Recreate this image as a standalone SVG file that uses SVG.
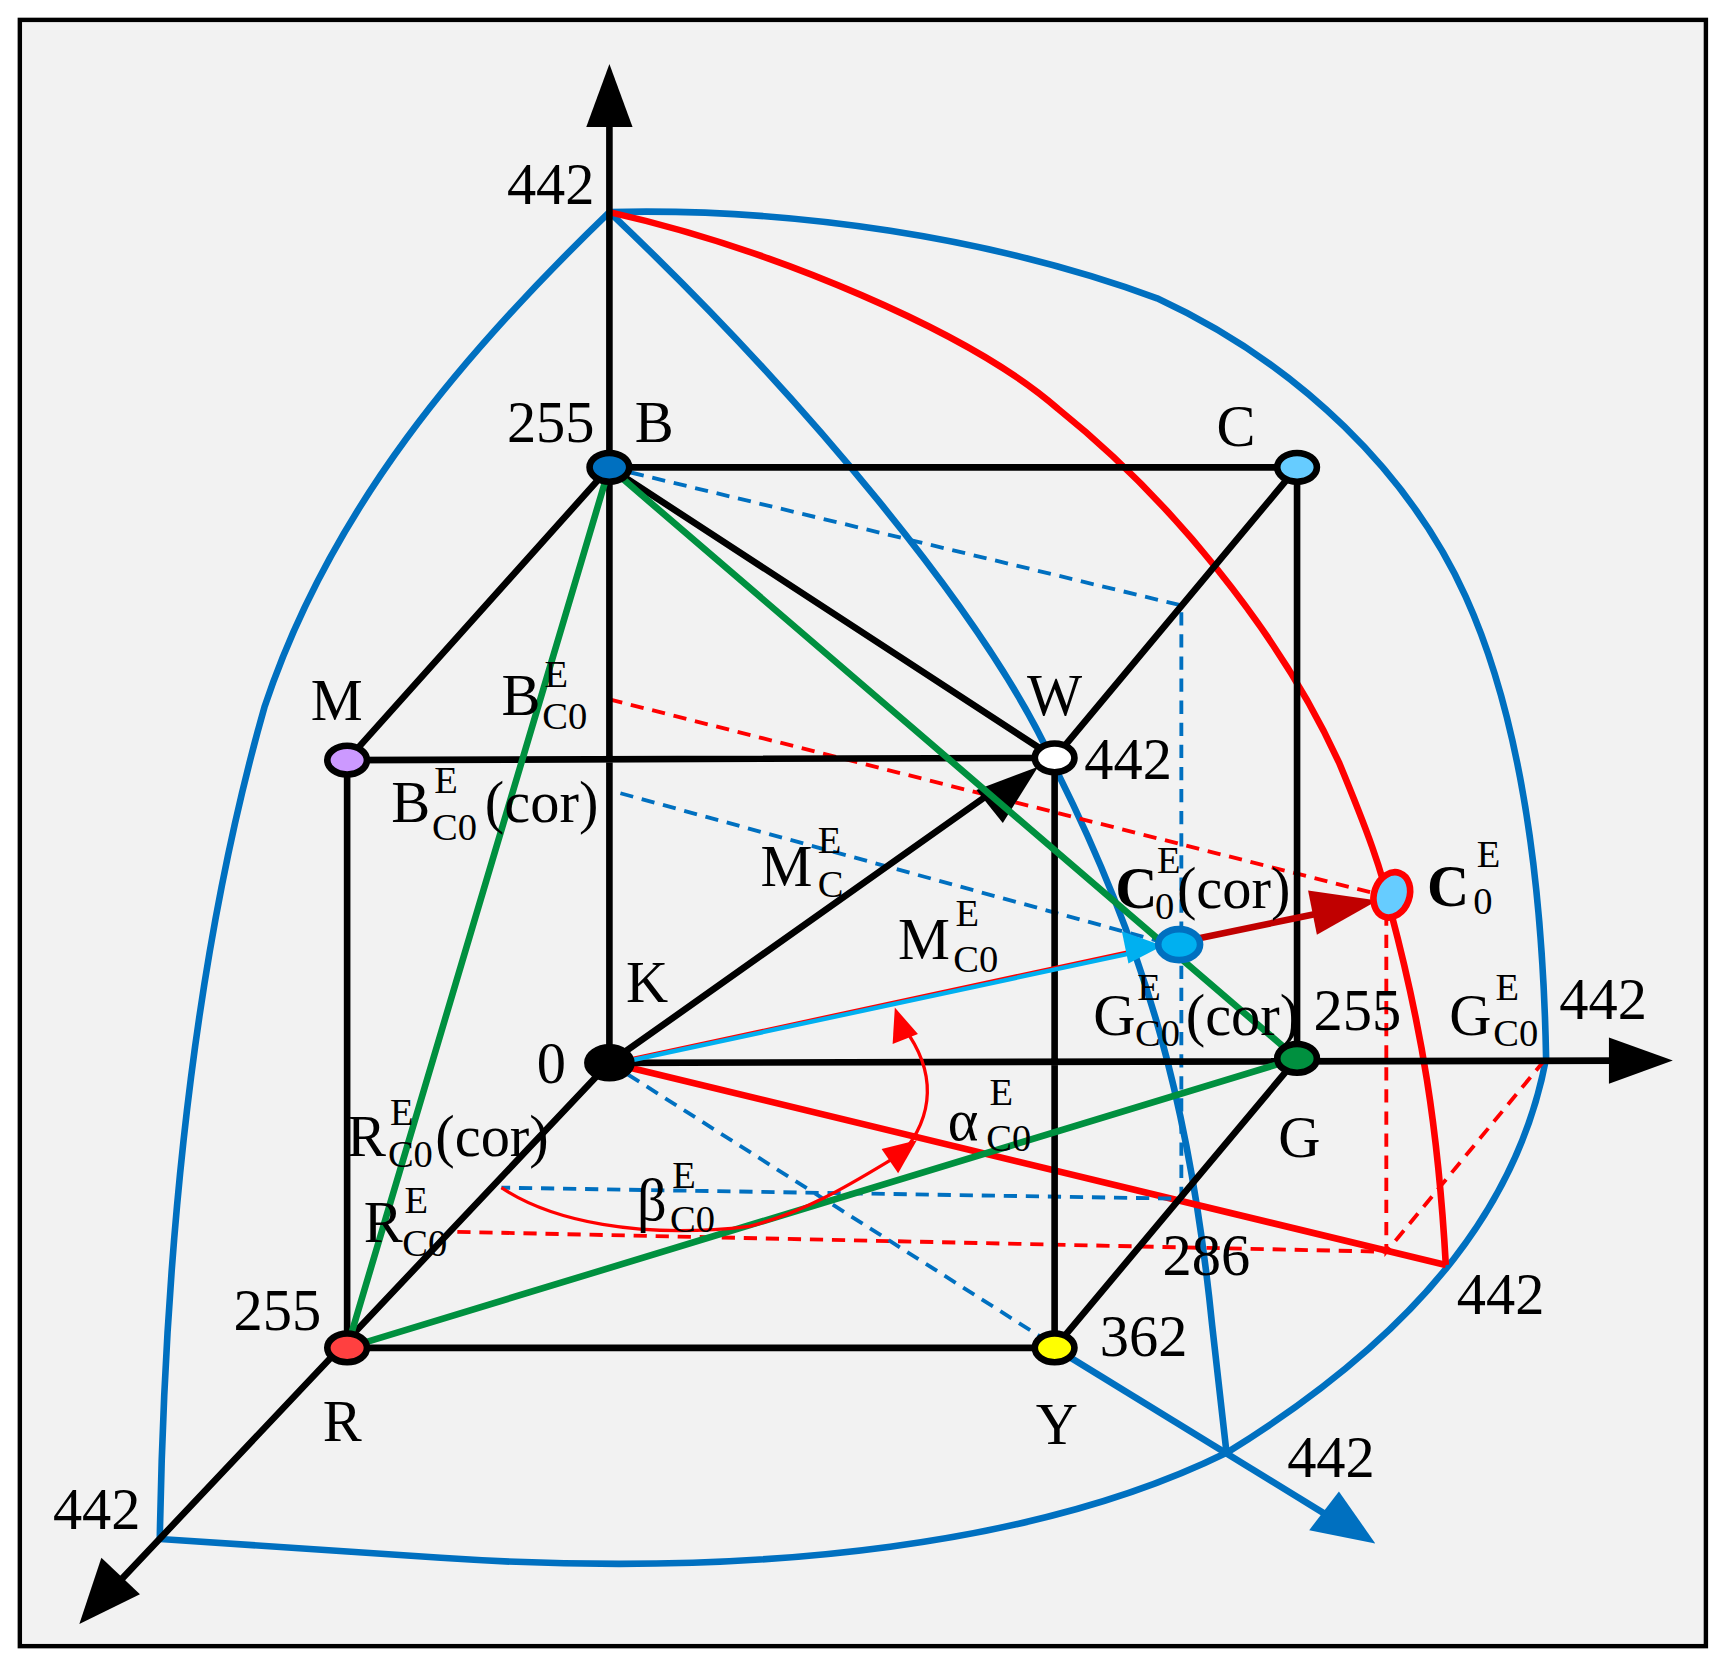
<svg xmlns="http://www.w3.org/2000/svg" width="1728" height="1666" viewBox="0 0 1728 1666">
<defs>
<style>
.t{font-family:"Liberation Serif",serif;font-size:53px;fill:#000}
.s{font-size:35px}
.b{font-weight:bold}
.k{stroke:#000;stroke-width:6;fill:none}
.bl{stroke:#0070c0;stroke-width:6;fill:none}
.rd{stroke:#ff0000;stroke-width:6;fill:none}
.gr{stroke:#00903f;stroke-width:6;fill:none}
.bd{stroke:#0070c0;stroke-width:3.5;fill:none;stroke-dasharray:12 8}
.rdd{stroke:#ff0000;stroke-width:3.5;fill:none;stroke-dasharray:12 8}
.n{stroke:#000;stroke-width:6}
</style>
</defs>
<rect x="0" y="0" width="1728" height="1666" fill="#fff"/>
<g transform="scale(1.102,1.1048)">
<rect x="18" y="18" width="1530" height="1472" fill="#f2f2f2" stroke="#000" stroke-width="4"/>
<g id="connectors">
<path class="bl" d="M553,192 C720,188 900,215 1050,270 C1180,330 1280,430 1330,540 C1380,650 1400,800 1403,958 C1380,1080 1300,1200 1113,1315 C950,1395 700,1430 400,1410 L145,1393 C150,1100 180,850 240,640 C300,460 420,320 553,192 Z"/>
<path class="bl" d="M553,192 C720,350 900,560 960,700 C1040,860 1080,1000 1100,1200 L1113,1315"/>
<path class="bl" d="M957,1220 L1210,1375"/>
<polygon points="1248,1397 1188,1385 1215,1350" fill="#0070c0"/>
<path class="rd" d="M553,192 C700,225 880,300 960,370 C1060,450 1160,570 1215,690 C1240,750 1255,790 1262,825 C1290,930 1305,1020 1312,1145"/>
<path class="rd" d="M553,962 L1312,1145"/>
<path class="rdd" d="M553,633 L1245,808 M415,1115 L1258,1133 M1258,826 L1258,1133 L1403,958"/>
<path class="bd" d="M553,423 L1072,548 L1072,1085 L455,1075 M563,718 L1052,852 M553,962 L957,1218"/>
<path class="k" d="M553,962 L553,100 M553,962 L1470,960 M553,962 L105,1435 M553,423 L1177,423 L1177,958 M553,423 L315,688 L957,686 L1177,423 M315,688 L315,1220 L957,1220 L957,686 M553,423 L957,686 M957,1220 L1177,958 M553,962 L910,710"/>
<polygon points="553,58 532,115 574,115" fill="#000"/>
<polygon points="1518,960 1460,939 1460,981" fill="#000"/>
<polygon points="72,1470 92,1410 127,1443" fill="#000"/>
<polygon points="942,694 886,715 910,745" fill="#000"/>
<path class="gr" d="M553,423 L315,1220 L1177,958 M553,423 L1177,958"/>
<path d="M553,962 L1052,855" stroke="#ff0000" stroke-width="2"/>
<path d="M553,964 L1030,862" stroke="#00b0f0" stroke-width="4"/>
<polygon points="1055,856 1018,843 1024,872" fill="#00b0f0"/>
<path d="M1075,852 L1195,827" stroke="#c00000" stroke-width="6"/>
<polygon points="1250,815 1187,806 1195,846" fill="#c00000"/>
<path d="M820,930 C850,970 848,1010 818,1045" stroke="#ff0000" stroke-width="3" fill="none"/>
<polygon points="812,912 810,945 833,936" fill="#ff0000"/>
<path d="M455,1075 C500,1105 580,1122 680,1110 C740,1095 790,1060 825,1040" stroke="#ff0000" stroke-width="3" fill="none"/>
<polygon points="832,1032 800,1040 815,1062" fill="#ff0000"/>
</g>
<g id="K"><ellipse cx="553" cy="962" rx="20" ry="14" fill="#000" class="n"/></g>
<g id="B"><ellipse cx="553" cy="423" rx="18" ry="13" fill="#0070c0" class="n"/></g>
<g id="C"><ellipse cx="1177" cy="423" rx="18" ry="13" fill="#66ccff" class="n"/></g>
<g id="M"><ellipse cx="315" cy="688" rx="18" ry="13" fill="#cc99ff" class="n"/></g>
<g id="W"><ellipse cx="957" cy="686" rx="18" ry="13" fill="#fff" class="n"/></g>
<g id="R"><ellipse cx="315" cy="1220" rx="18" ry="13" fill="#ff4040" class="n"/></g>
<g id="Y"><ellipse cx="957" cy="1220" rx="18" ry="13" fill="#ffff00" class="n"/></g>
<g id="G"><ellipse cx="1177" cy="958" rx="18" ry="13" fill="#00903f" class="n"/></g>
<g id="C0cor"><ellipse cx="1070" cy="855" rx="19" ry="14" fill="#00b0f0" stroke="#0070c0" stroke-width="6"/></g>
<g id="C0"><ellipse cx="1263" cy="810" rx="16" ry="21" transform="rotate(20 1263 810)" fill="#66ccff" stroke="#ff0000" stroke-width="6"/></g>
<g id="labels" class="t">
<text x="460" y="185">442</text>
<text x="460" y="400">255</text>
<text x="576" y="400">B</text>
<text x="1104" y="404">C</text>
<text x="282" y="652">M</text>
<text x="932" y="647">W</text>
<text x="984" y="705">442</text>
<text x="568" y="907">K</text>
<text x="487" y="980">0</text>
<text x="455" y="647">B</text><text class="s" x="494" y="622">E</text><text class="s" x="492" y="660">C0</text>
<text x="355" y="744">B</text><text class="s" x="394" y="718">E</text><text class="s" x="392" y="760">C0</text><text x="440" y="744">(cor)</text>
<text x="690" y="802">M</text><text class="s" x="742" y="772">E</text><text class="s" x="742" y="812">C</text>
<text x="815" y="868">M</text><text class="s" x="867" y="838">E</text><text class="s" x="865" y="880">C0</text>
<text class="b" x="1012" y="822">C</text><text class="s" x="1050" y="790">E</text><text class="s" x="1048" y="832">0</text><text x="1068" y="822">(cor)</text>
<text class="b" x="1295" y="820">C</text><text class="s" x="1340" y="785">E</text><text class="s" x="1337" y="827">0</text>
<text x="992" y="937">G</text><text class="s" x="1032" y="905">E</text><text class="s" x="1030" y="947">C0</text><text x="1076" y="937">(cor)</text>
<text x="1192" y="932">255</text>
<text x="1315" y="937">G</text><text class="s" x="1357" y="905">E</text><text class="s" x="1355" y="947">C0</text>
<text x="1415" y="922">442</text>
<text x="1160" y="1047">G</text>
<text x="860" y="1032">α</text><text class="s" x="898" y="1000">E</text><text class="s" x="895" y="1042">C0</text>
<text x="315" y="1046">R</text><text class="s" x="354" y="1018">E</text><text class="s" x="352" y="1056">C0</text><text x="395" y="1046">(cor)</text>
<text x="330" y="1124">R</text><text class="s" x="367" y="1098">E</text><text class="s" x="365" y="1137">C0</text>
<text x="578" y="1104">β</text><text class="s" x="610" y="1075">E</text><text class="s" x="608" y="1115">C0</text>
<text x="1055" y="1154">286</text>
<text x="1322" y="1189">442</text>
<text x="212" y="1204">255</text>
<text x="998" y="1227">362</text>
<text x="293" y="1304">R</text>
<text x="940" y="1307">Y</text>
<text x="1168" y="1337">442</text>
<text x="48" y="1384">442</text>
</g>
</g>
</svg>
